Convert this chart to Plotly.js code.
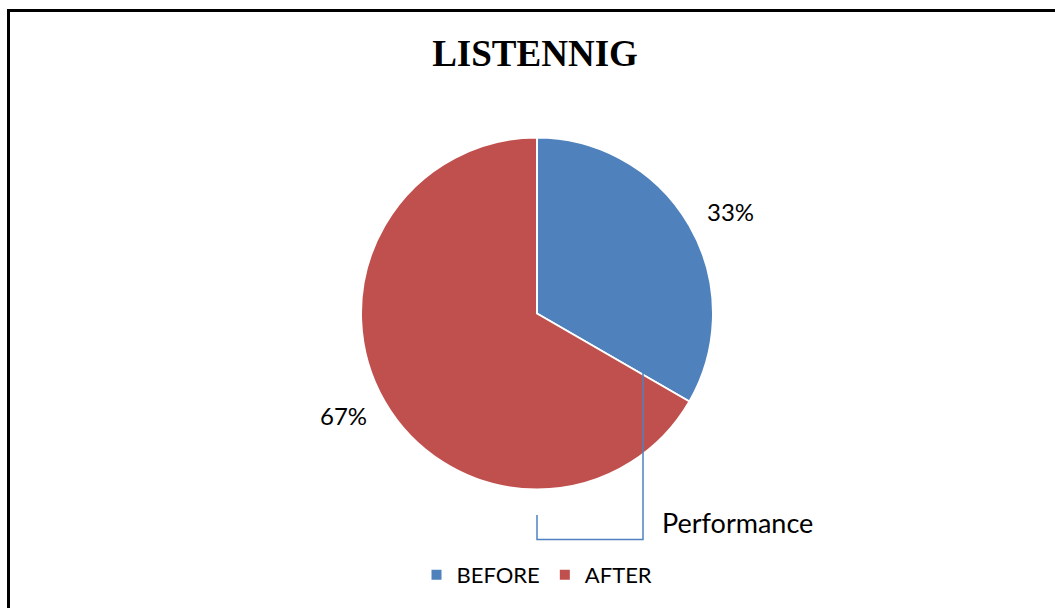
<!DOCTYPE html>
<html>
<head>
<meta charset="utf-8">
<script src="https://cdn.plot.ly/plotly-3.0.1.min.js"></script>
<style>html,body{margin:0;padding:0;background:#fff;}#chart{width:1055px;height:608px;}</style>
</head>
<body>
<div id="chart"></div>
<script>
const categories = ["BEFORE", "AFTER"];
const values = [1, 2];
const colors = ["#4F81BD", "#C0504D"];
const chartTitle = "LISTENNIG";
const calloutText = "Performance";

const W = 1055, H = 608;
const cx = 537, cy = 313.5, R = 176;

// percent labels positioned from the data (mid-angle of each slice)
const total = values.reduce((a, b) => a + b, 0);
let cum = 0;
const labelAnns = values.map((v, i) => {
  const mid = (cum + v / 2) / total * 2 * Math.PI;
  cum += v;
  const px = cx + 1.27 * R * Math.sin(mid);
  const py = cy - 1.16 * R * Math.cos(mid);
  return {
    text: Math.round(v / total * 100) + "%",
    x: px / W, y: 1 - py / H, xref: "paper", yref: "paper",
    xanchor: "center", yanchor: "middle", showarrow: false,
    font: {family: "Lato", size: 24, color: "#000"}
  };
});

const data = [{
  type: "pie",
  labels: categories,
  values: values,
  sort: false,
  direction: "clockwise",
  rotation: 0,
  textinfo: "none",
  hoverinfo: "skip",
  marker: {colors: colors, line: {color: "#ffffff", width: 2}},
  domain: {x: [(cx - R) / W, (cx + R) / W], y: [1 - (cy + R) / H, 1 - (cy - R) / H]}
}];

const layout = {
  width: W, height: H,
  margin: {l: 0, r: 0, t: 0, b: 0},
  paper_bgcolor: "#fff",
  title: {
    text: "<b>" + chartTitle + "</b>",
    font: {family: "Liberation Serif", size: 37, color: "#000"},
    x: 535 / W, xanchor: "center", xref: "paper",
    y: 1 - 53 / H, yanchor: "middle", yref: "container"
  },
  showlegend: true,
  legend: {
    orientation: "h", x: 537 / W, xanchor: "center", y: 1 - 575 / H, yanchor: "middle",
    font: {family: "Lato", size: 22, color: "#000"}, bgcolor: "rgba(0,0,0,0)"
  },
  annotations: labelAnns.concat([{
    text: calloutText, x: 660 / W, y: 1 - 522 / H, xref: "paper", yref: "paper",
    xanchor: "left", yanchor: "middle", showarrow: false,
    font: {family: "Lato", size: 27, color: "#000"}
  }]),
  shapes: [
    {type: "rect", xref: "paper", yref: "paper",
     x0: 8.5 / W, x1: 1.02, y0: -0.05, y1: 1 - 10.5 / H,
     line: {color: "#000", width: 3}, fillcolor: "rgba(0,0,0,0)"},
    {type: "path", xref: "paper", yref: "paper",
     path: "M " + (643 / W) + "," + (1 - 339 / H) + " L " + (643 / W) + "," + (1 - 539.5 / H) +
           " L " + (537 / W) + "," + (1 - 539.5 / H) + " L " + (537 / W) + "," + (1 - 515 / H),
     line: {color: "#4F81BD", width: 1.5}}
  ]
};

Plotly.newPlot("chart", data, layout, {displayModeBar: false, staticPlot: true});
</script>
</body>
</html>
